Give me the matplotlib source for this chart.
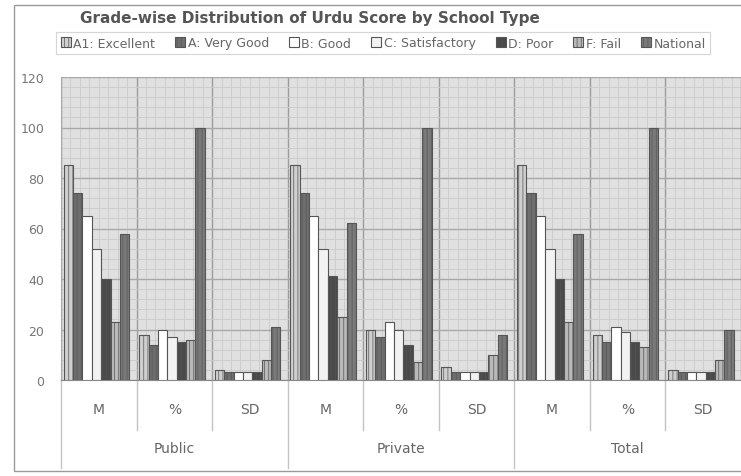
import matplotlib.pyplot as plt
from matplotlib.patches import Rectangle
import numpy as np

# data
schools = ['Public', 'Private', 'Total']
stats = ['M', '%', 'SD']
grades = ['A1: Excellent', 'A: Very Good', 'B: Good', 'C: Satisfactory',
          'D: Poor', 'F: Fail', 'National']

# one list per grade, 9 values: Public M,%,SD / Private M,%,SD / Total M,%,SD
a1_excellent = [85, 18, 4, 85, 20, 5, 85, 18, 4]
a_very_good = [74, 14, 3, 74, 17, 3, 74, 15, 3]
b_good = [65, 20, 3, 65, 23, 3, 65, 21, 3]
c_satisfactory = [52, 17, 3, 52, 20, 3, 52, 19, 3]
d_poor = [40, 15, 3, 41, 14, 3, 40, 15, 3]
f_fail = [23, 16, 8, 25, 7, 10, 23, 13, 8]
national = [58, 100, 21, 62, 100, 18, 58, 100, 20]

series = [a1_excellent, a_very_good, b_good, c_satisfactory, d_poor, f_fail, national]
colors = ['#cfcfcf', '#6e6e6e', '#ffffff', '#f2f2f2', '#4a4a4a', '#b9b9b9', '#7a7a7a']
hatches = ['||||', '||||', None, None, '||||', '||||', '||||']

W, H = 741, 477
fig = plt.figure(figsize=(W / 100, H / 100), dpi=100)

# outer frame
fig.patches.append(Rectangle((14 / W, 1 - 472 / H), 1.0, (472 - 6) / H,
                             transform=fig.transFigure, fill=False,
                             edgecolor='#9a9a9a', lw=1.0))

ax = fig.add_axes([61 / W, 1 - 381 / H, (741 - 61) / W, (381 - 78) / H])
ax.set_facecolor('#e0e0e0')
ax.set_xlim(0, 9)
ax.set_ylim(0, 120)

# background grid texture
ax.set_yticks(np.arange(0, 121, 20))
ax.set_yticks(np.arange(0, 121, 4), minor=True)
ax.set_xticks(np.arange(0, 9.01, 1))
ax.set_xticks(np.arange(0, 9.01, 0.125), minor=True)
ax.grid(which='minor', color='#cacaca', lw=0.6)
ax.grid(which='major', axis='y', color='#a8a8a8', lw=1.0)
ax.grid(which='major', axis='x', color='#9c9c9c', lw=1.0)
ax.set_axisbelow(True)

plt.rcParams['hatch.color'] = '#9a9a9a'
plt.rcParams['hatch.linewidth'] = 0.5

w = 0.124
x = np.arange(9) + 0.47
for k, vals in enumerate(series):
    ax.bar(x + (k - 3) * w, vals, w, color=colors[k], edgecolor='#555555',
           lw=0.8, hatch=hatches[k], label=grades[k], zorder=3)

ax.tick_params(axis='x', which='both', bottom=False, labelbottom=False)
ax.tick_params(axis='y', which='both', length=0, labelsize=9, labelcolor='#777777', pad=12)
ax.tick_params(axis='y', which='minor', left=False)
for s in ['top', 'right']:
    ax.spines[s].set_visible(False)
ax.spines['left'].set_color('#aaaaaa')
ax.spines['bottom'].set_color('#888888')

# two-level category axis below the plot
tr = ax.get_xaxis_transform()
for i in range(1, 9):
    y_end = -0.29 if i % 3 == 0 else -0.165
    ax.plot([i, i], [0, y_end], transform=tr, color='#c4c4c4', lw=1, clip_on=False)
ax.plot([0, 0], [0, -0.29], transform=tr, color='#c4c4c4', lw=1, clip_on=False)
for i in range(9):
    ax.text(i + 0.5, -0.095, stats[i % 3], transform=tr, ha='center', va='center',
            fontsize=10, color='#666666')
for j, name in enumerate(schools):
    ax.text(j * 3 + 1.5, -0.225, name, transform=tr, ha='center', va='center',
            fontsize=10, color='#666666')

fig.text(80 / W, 1 - 18 / H, 'Grade-wise Distribution of Urdu Score by School Type',
         ha='left', va='center', fontsize=11, fontweight='bold', color='#555555')

leg = fig.legend(loc='center left', bbox_to_anchor=(50 / W, 1 - 44 / H), ncol=7,
                 fontsize=9, frameon=True, fancybox=False, handlelength=0.8,
                 handleheight=0.8, handletextpad=0.2, columnspacing=1.6,
                 borderpad=0.35, labelcolor='#666666')
leg.get_frame().set_edgecolor('#cccccc')
leg.get_frame().set_linewidth(0.8)

fig.savefig('out.png', dpi=100)
